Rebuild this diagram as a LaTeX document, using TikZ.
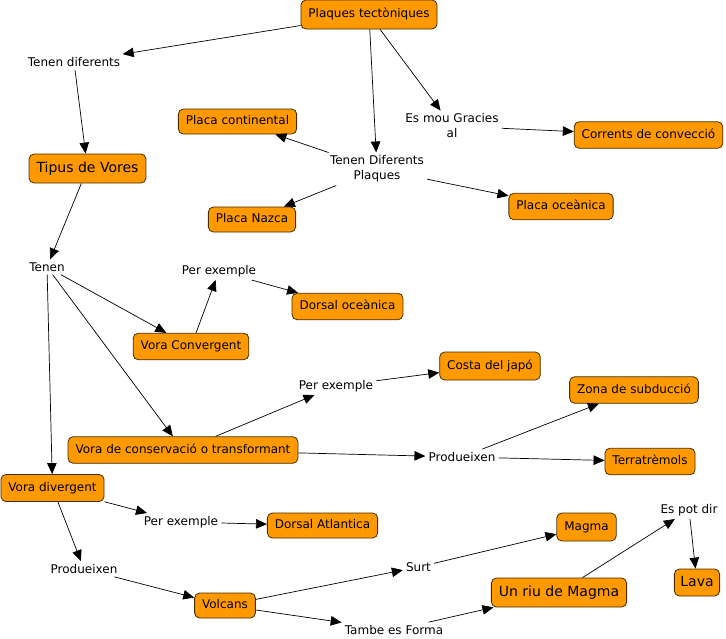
\documentclass[tikz,border=0pt]{standalone}
\usepackage{fontspec}
\setmainfont{DejaVu Sans}
\usetikzlibrary{arrows.meta}
\definecolor{boxfill}{RGB}{255,153,0}
\definecolor{boxline}{RGB}{70,45,0}
\begin{document}
\begin{tikzpicture}[x=1pt,y=-1pt,
    concept/.style={draw=boxline,fill=boxfill,rounded corners=5pt,line width=0.8pt,
      inner xsep=7.5pt,inner ysep=0pt,minimum height=26.5pt,text height=8.8pt,text depth=2.6pt,
      font=\fontsize{12}{14}\selectfont},
    big/.style={font=\fontsize{14}{16}\selectfont,minimum height=29pt,text height=10.5pt,text depth=3pt},
    phrase/.style={align=center,inner sep=3pt,font=\fontsize{12}{15}\selectfont},
    link/.style={-{Triangle[length=11pt,width=9.5pt]},line width=0.7pt}]
  \useasboundingbox (0,0) rectangle (726,638);
  \draw
    (369,14.5) node[concept,minimum height=29pt] (0){Plaques tectòniques}
    (74,62) node[phrase] (1){Tenen diferents}
    (87.5,168.5) node[concept,big] (2){Tipus de Vores}
    (237.5,121.5) node[concept,minimum height=25pt] (3){Placa continental}
    (377,169) node[phrase] (4){Tenen Diferents\\Plaques}
    (252,219.5) node[concept,minimum height=25pt] (5){Placa Nazca}
    (452,126) node[phrase] (6){Es mou Gracies\\al}
    (648.5,135) node[concept] (7){Corrents de convecció}
    (561,206.5) node[concept] (8){Placa oceànica}
    (47,267) node[phrase] (9){Tenen}
    (219,271) node[phrase] (10){Per exemple}
    (347.5,306.5) node[concept] (11){Dorsal oceànica}
    (191,346.5) node[concept] (12){Vora Convergent}
    (336,386) node[phrase] (13){Per exemple}
    (490,366) node[concept,minimum height=28pt] (14){Costa del japó}
    (634,390) node[concept] (15){Zona de subducció}
    (183,450) node[concept] (16){Vora de conservació o transformant}
    (462,457) node[phrase] (17){Produeixen}
    (650,461.5) node[concept] (18){Terratrèmols}
    (52.5,488) node[concept,minimum height=27pt] (19){Vora divergent}
    (181,522) node[phrase] (20){Per exemple}
    (322.5,525.5) node[concept,minimum height=25pt] (21){Dorsal Atlantica}
    (84,569) node[phrase] (22){Produeixen}
    (225,605.5) node[concept,minimum height=25pt] (23){Volcans}
    (418.5,567) node[phrase] (24){Surt}
    (586.5,527) node[concept,minimum height=28pt] (25){Magma}
    (394,630) node[phrase] (26){Tambe es Forma}
    (559,592.5) node[concept,big] (27){Un riu de Magma}
    (689,510) node[phrase] (28){Es pot dir}
    (697,582.5) node[concept,big,minimum height=27pt,inner xsep=6pt] (29){Lava};
  \begin{scope}[link]
    \draw (0) to (1);
    \draw (1) to (2);
    \draw (0) to (4);
    \draw (0) to (6);
    \draw (6) to (7);
    \draw (4) to (3);
    \draw (4) to (5);
    \draw (4) to (8);
    \draw (2) to (9);
    \draw (9) to (12);
    \draw (9) to (16);
    \draw (9) to (19);
    \draw (12) to (10);
    \draw (10) to (11);
    \draw (16) to (13);
    \draw (13) to (14);
    \draw (16) to (17);
    \draw (17) to (15);
    \draw (17) to (18);
    \draw (19) to (20);
    \draw (20) to (21);
    \draw (19) to (22);
    \draw (22) to (23);
    \draw (23) to (24);
    \draw (24) to (25);
    \draw (23) to (26);
    \draw (26) to (27);
    \draw (27) to (28);
    \draw (28) to (29);
  \end{scope}
\end{tikzpicture}
\end{document}
